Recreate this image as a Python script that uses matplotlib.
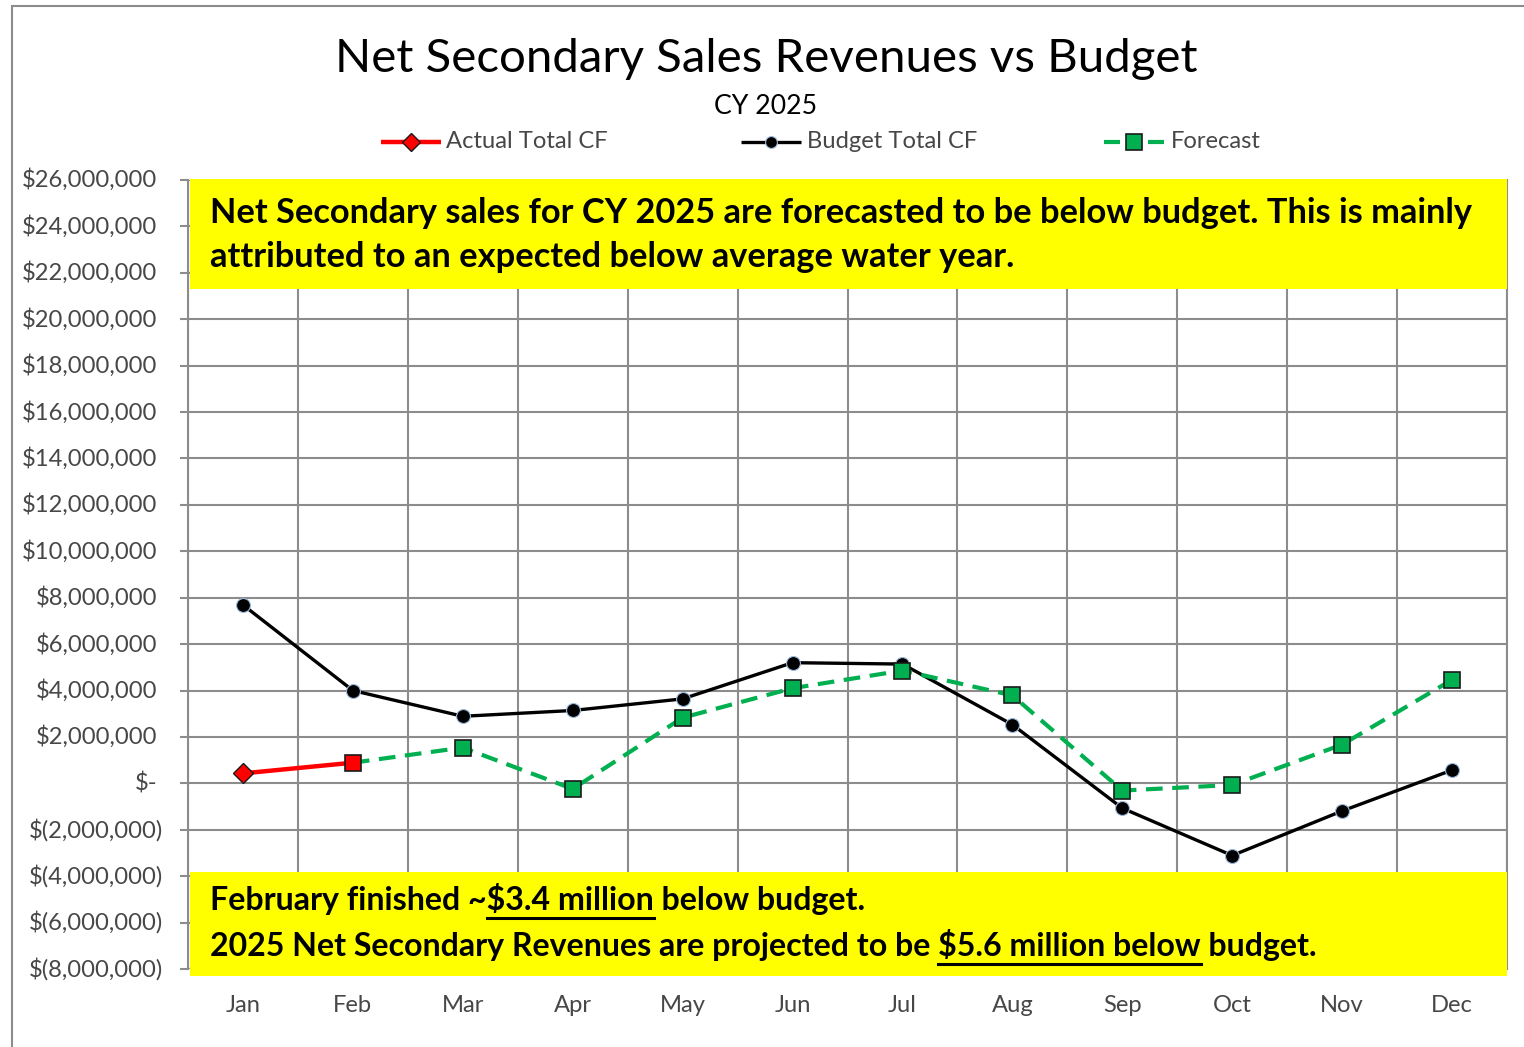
import matplotlib
matplotlib.use("Agg")
import matplotlib.pyplot as plt
import matplotlib.transforms as mtransforms
from matplotlib.lines import Line2D
from matplotlib.patches import Rectangle
import numpy as np

# ---------------- data ----------------
months = ["Jan", "Feb", "Mar", "Apr", "May", "Jun", "Jul", "Aug", "Sep", "Oct", "Nov", "Dec"]
budget_total_cf = [7.69e6, 4.00e6, 2.89e6, 3.14e6, 3.64e6, 5.20e6, 5.14e6, 2.53e6,
                   -1.07e6, -3.11e6, -1.19e6, 0.57e6]
actual_months = ["Jan", "Feb"]
actual_total_cf = [0.43e6, 0.89e6]
forecast_months = ["Feb", "Mar", "Apr", "May", "Jun", "Jul", "Aug", "Sep", "Oct", "Nov", "Dec"]
forecast = [0.89e6, 1.54e6, -0.24e6, 2.83e6, 4.10e6, 4.86e6, 3.79e6, -0.31e6, -0.07e6, 1.67e6, 4.46e6]
ytick_values = list(range(-8_000_000, 26_000_001, 2_000_000))

title = "Net Secondary Sales Revenues vs Budget"
subtitle = "CY 2025"
top_note = ["Net Secondary sales for CY 2025 are forecasted to be below budget. This is mainly",
            "attributed to an expected below average water year."]
bottom_line1 = [("February finished ~", False), ("$3.4 million", True), (" below budget.", False)]
bottom_line2 = [("2025 Net Secondary Revenues are projected to be ", False),
                ("$5.6 million below", True), (" budget.", False)]

# ---------------- style ----------------
FONT = "Lato"
plt.rcParams["font.family"] = [FONT, "DejaVu Sans"]
W, H = 1524, 1047
GRID = "#8c8c8c"
LABEL = "#474747"
RED = "#FF0000"
GREEN = "#00B050"
YELLOW = "#FFFF00"

fig = plt.figure(figsize=(W / 100, H / 100), dpi=100)
renderer = fig.canvas.get_renderer()


def fx(x):
    return x / W


def fy(y):
    return 1 - y / H


def width_of(s, fs, weight="normal"):
    t = fig.text(0, 0, s, fontsize=fs, fontweight=weight)
    w = t.get_window_extent(renderer).width
    t.remove()
    return w


def fit_size(s, target, weight="normal"):
    return 20 * target / width_of(s, 20, weight)


# outer frame
fig.patches.append(Rectangle((fx(12), fy(1080)), fx(1540) - fx(12), fy(6) - fy(1080),
                             transform=fig.transFigure, fill=False, edgecolor=GRID,
                             linewidth=1.5, clip_on=False))

# ---------------- axes ----------------
ax = fig.add_axes([fx(188), fy(969), (1507 - 188) / W, (969 - 180) / H])
ax.set_ylim(-8e6, 26e6)

ax.plot(months, budget_total_cf, color="black", lw=2.4, marker="o", ms=10,
        mfc="black", mec="#9DB9DD", mew=0.8, zorder=3)
ax.plot(forecast_months, forecast, color=GREEN, lw=3.0, dashes=(4, 2.3), marker="s", ms=11.5,
        mfc=GREEN, mec="#1a1a1a", mew=1.2, markevery=list(range(1, len(forecast))), zorder=4)
ax.plot(actual_months, actual_total_cf, color=RED, lw=3.2, marker="D", ms=10.5,
        mfc=RED, mec="#1a1a1a", mew=1.0, markevery=[0], zorder=5)
ax.plot(forecast_months[:1], forecast[:1], linestyle="none", marker="s", ms=11.5,
        mfc=RED, mec="#1a1a1a", mew=1.2, zorder=6)
ax.set_xlim(-0.5, len(months) - 0.5)

ax.set_yticks(ytick_values)
ax.set_xticks(np.arange(-0.5, len(months), 1.0), minor=True)
ax.set_axisbelow(True)
ax.yaxis.grid(True, color=GRID, lw=1.5)
ax.xaxis.grid(True, which="minor", color=GRID, lw=1.5)
ax.xaxis.grid(False, which="major")
for side in ["top", "bottom"]:
    ax.spines[side].set_visible(False)
for side in ["left", "right"]:
    ax.spines[side].set_color(GRID)
    ax.spines[side].set_linewidth(1.5)
ax.tick_params(axis="y", length=6, width=1.5, color=GRID, labelleft=False)
ax.tick_params(axis="x", which="both", length=0)

tick_fs = fit_size("$26,000,000", 135)
ax.tick_params(axis="x", labelsize=tick_fs, labelcolor=LABEL, pad=19)

blend = mtransforms.blended_transform_factory(ax.transAxes, ax.transData)
for v in ytick_values:
    if v > 0:
        s, off = f"${v:,.0f}", 31
    elif v == 0:
        s, off = "$-", 31
    else:
        s, off = f"$({-v:,.0f})", 25
    tr = blend + mtransforms.ScaledTranslation(-off / 100, 0, fig.dpi_scale_trans)
    ax.text(0, v, s, transform=tr, ha="right", va="center", fontsize=tick_fs, color=LABEL)

# ---------------- title / subtitle ----------------
fig.text(fx(766), fy(72), title, ha="center", va="baseline",
         fontsize=fit_size(title, 862), color="black")
fig.text(fx(766), fy(114), subtitle, ha="center", va="baseline",
         fontsize=fit_size(subtitle, 103), color="black")

# ---------------- legend ----------------
leg_fs = fit_size("Actual Total CF", 162)
leg_y = fy(142)


def legend_handle(xc, segs, **kw):
    for a, b in segs:
        fig.add_artist(Line2D([fx(xc + a), fx(xc + b)], [leg_y] * 2,
                              transform=fig.transFigure, color=kw["color"], lw=kw["lw"],
                              solid_capstyle="butt"))
    fig.add_artist(Line2D([fx(xc)], [leg_y], transform=fig.transFigure, linestyle="none",
                          marker=kw["marker"], ms=kw["ms"], mfc=kw["color"] if kw["color"] != "black" else "black",
                          mec=kw["mec"], mew=kw["mew"]))


legend_handle(411, [(-30, 30)], color=RED, lw=3.2, marker="D", ms=9, mec="#1a1a1a", mew=1.0)
legend_handle(771, [(-30, 30)], color="black", lw=2.4, marker="o", ms=8.5, mec="#9DB9DD", mew=0.8)
legend_handle(1134, [(-30, -14), (14, 30)], color=GREEN, lw=3.0, marker="s", ms=11,
              mec="#1a1a1a", mew=1.2)
for xs, lab in [(446, "Actual Total CF"), (807, "Budget Total CF"), (1171, "Forecast")]:
    fig.text(fx(xs), fy(148), lab, ha="left", va="baseline", fontsize=leg_fs, color=LABEL)

# ---------------- yellow note boxes ----------------
for (x0, y0, x1, y1) in [(190, 179, 1507, 289), (190, 872, 1507, 976)]:
    fig.patches.append(Rectangle((fx(x0), fy(y1)), fx(x1) - fx(x0), fy(y0) - fy(y1),
                                 transform=fig.transFigure, facecolor=YELLOW,
                                 edgecolor="none", zorder=10))

top_fs = fit_size(top_note[0], 1260, "bold")
for s, base in zip(top_note, [223, 267]):
    fig.text(fx(210), fy(base), s, ha="left", va="baseline", fontsize=top_fs,
             fontweight="bold", color="black", zorder=11)

full2 = "".join(p for p, _ in bottom_line2)
bot_fs = fit_size(full2, 1110, "bold")
for parts, base in [(bottom_line1, 910), (bottom_line2, 956)]:
    full = "".join(p for p, _ in parts)
    fig.text(fx(210), fy(base), full, ha="left", va="baseline", fontsize=bot_fs,
             fontweight="bold", color="black", zorder=11)
    prefix = ""
    for p, ul in parts:
        if ul:
            end = 210 + width_of(prefix + p, bot_fs, "bold")
            start = end - width_of(p, bot_fs, "bold")
            fig.add_artist(Line2D([fx(start), fx(end)], [fy(base + 8)] * 2,
                                  transform=fig.transFigure, color="black", lw=2.2, zorder=12))
        prefix += p

fig.savefig("out.png", dpi=100)
